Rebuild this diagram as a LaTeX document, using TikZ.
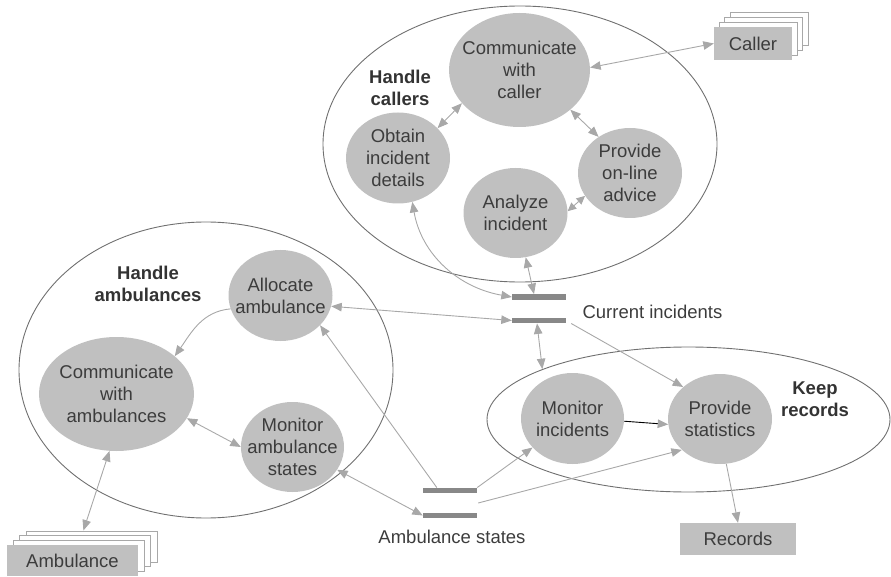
\documentclass[tikz,border=0pt]{standalone}
\usepackage{fontspec}
\setmainfont{Liberation Sans}
\usetikzlibrary{shapes.geometric,arrows.meta,calc}
\definecolor{procfill}{HTML}{C0C0C0}
\definecolor{txt}{HTML}{3C3C3C}
\definecolor{grpdark}{HTML}{333333}
\definecolor{grp}{HTML}{707070}
\definecolor{arr}{HTML}{A8A8A8}
\definecolor{barc}{HTML}{888888}
\begin{document}
\begin{tikzpicture}[x=1pt,y=1pt,
  fnt/.style={font=\fontsize{18.5}{22}\selectfont, text=txt},
  proc/.style 2 args={ellipse, fill=procfill, minimum width=#1, minimum height=#2, inner sep=0pt},
  plbl/.style={fnt, align=center},
  grpell/.style 2 args={ellipse, draw=grp, line width=0.9pt, minimum width=#1, minimum height=#2, inner sep=0pt},
  glbl/.style={font=\fontsize{18.5}{22}\selectfont\bfseries, text=grpdark, align=center},
  ext/.style 2 args={rectangle, fill=procfill, minimum width=#1, minimum height=#2, inner sep=0pt, fnt},
  extback/.style 2 args={rectangle, fill=white, draw=arr, line width=0.8pt, minimum width=#1, minimum height=#2, inner sep=0pt},
  storebar/.style={rectangle, fill=barc, minimum width=54pt, minimum height=5.5pt, inner sep=0pt},
  flow/.style={draw=arr, line width=0.9pt, -{Triangle[length=10.5pt,width=8.5pt]}},
  flow2/.style={draw=arr, line width=0.9pt, {Triangle[length=10.5pt,width=8.5pt]}-{Triangle[length=10.5pt,width=8.5pt]}},
  flowshort/.style={draw=arr, line width=0.9pt, {Triangle[length=8.5pt,width=8pt]}-{Triangle[length=8.5pt,width=8pt]}},
]
\useasboundingbox (0,0) rectangle (891,-577);

% groups
\node[grpell={394pt}{276pt}] (hc) at (520,-144) {};
\node[grpell={374pt}{296pt}] (ha) at (206,-370) {};
\node[grpell={403pt}{145pt}] (kr) at (688.5,-419.5) {};
\node[glbl] (hcl) at (400,-88) {Handle\\callers};
\node[glbl] (hal) at (148,-284) {Handle\\ambulances};
\node[glbl] (krl) at (815,-399) {Keep\\records};

% processes
\node[proc={141pt}{114pt}, label={[plbl]center:Communicate\\with\\caller}] (cc) at (519.5,-70) {};
\node[proc={104pt}{91pt}, label={[plbl]center:Obtain\\incident\\details}] (oid) at (398,-158) {};
\node[proc={104pt}{90pt}, label={[plbl]center:Analyze\\incident}] (ai) at (515.5,-213) {};
\node[proc={104pt}{90pt}, label={[plbl]center:Provide\\on-line\\advice}] (poa) at (630,-173) {};
\node[proc={104pt}{91pt}, label={[plbl]center:Allocate\\ambulance}] (aa) at (280.5,-295.5) {};
\node[proc={155pt}{114pt}, label={[plbl]center:Communicate\\with\\ambulances}] (ca) at (116.5,-394) {};
\node[proc={103pt}{90pt}, label={[plbl]center:Monitor\\ambulance\\states}] (mas) at (292.5,-447) {};
\node[proc={103pt}{91pt}, label={[plbl]center:Monitor\\incidents}] (mi) at (572.5,-418.5) {};
\node[proc={104pt}{90pt}, label={[plbl]center:Provide\\statistics}] (ps) at (720,-419) {};

% externals
\node[extback={78pt}{33pt}] (caller3) at (768.9,-29.4) {};
\node[extback={78pt}{33pt}] (caller2) at (763.6,-34.1) {};
\node[extback={78pt}{33pt}] (caller1) at (758.3,-38.8) {};
\node[ext={78pt}{33pt}] (caller) at (753,-43.5) {Caller};
\node[extback={131pt}{31pt}] (amb3) at (91.4,-546.4) {};
\node[extback={131pt}{31pt}] (amb2) at (85.1,-551.1) {};
\node[extback={131pt}{31pt}] (amb1) at (78.8,-555.8) {};
\node[ext={131pt}{31pt}] (amb) at (72.5,-560.5) {Ambulance};
\node[ext={116pt}{32pt}] (rec) at (738,-539) {Records};

% stores
\node[storebar] (ci1) at (539,-297) {};
\node[storebar] (ci2) at (539,-320.5) {};
\node[fnt, anchor=west] (cil) at (579,-312) {Current incidents};
\node[storebar] (as1) at (450,-490.5) {};
\node[storebar] (as2) at (450,-515.5) {};
\node[fnt] (asl) at (452,-537) {Ambulance states};

% flows
\draw[flow2] (cc.2.4) -- (caller.west);
\draw[flow2] (cc.210.5) -- (oid.37.8);
\draw[flow2] (cc.-38.7) -- (poa.131.7);
\draw[flowshort] (ai.2) -- (poa.207);
\draw[flow2] (oid.-72.3) to[out=-80,in=170] (ci1.west);
\draw[flow2] (ai.-77) -- ($(ci1.north)+(-5,0)$);
\draw[flow2] (aa.-12.4) -- (ci2.west);
\draw[flow2] ($(ci2.south)+(-2,0)$) -- (kr.161.4);
\draw[flow] ($(ci2.east)+(5,-3)$) -- (ps.139.9);
\draw[draw=black, line width=0.9pt, -{Triangle[length=10.5pt,width=8.5pt,color=arr]}] (mi.-3.9) -- (ps.186.6);
\draw[flow] ($(as1.north west)+(14,0)$) -- (aa.-37.2);
\draw[flow2] (mas.-27.7) -- (as2.west);
\draw[flow] (as1.north east) -- (mi.216);
\draw[flow] ($(as1.east)!0.5!(as2.east)+(1,0)$) -- (ps.219.2);
\draw[flow] (ps.-82.6) -- (rec.north);
\draw[flow] (aa.195.7) to[out=185,in=55] (ca.33.7);
\draw[flow2] (ca.-19.5) -- (mas.180);
\draw[flow2] ($(amb3.north)+(-8,0)$) -- (ca.-97.4);
\end{tikzpicture}
\end{document}
